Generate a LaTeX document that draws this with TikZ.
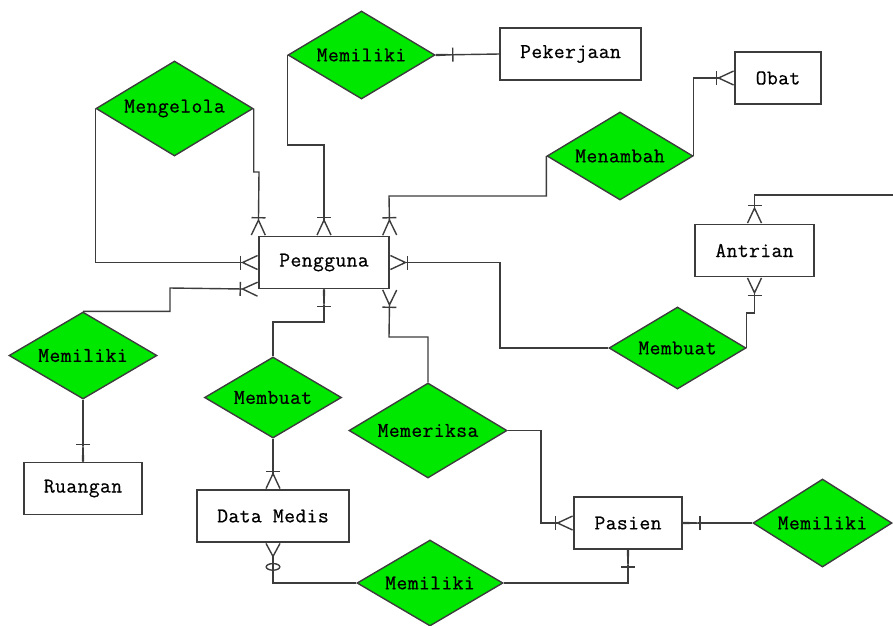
\documentclass[tikz,border=0pt]{standalone}
\usepackage{fontspec}
\usepackage{tikz}
\usetikzlibrary{arrows.meta, shapes}
\newfontfamily\ermono{Latin Modern Mono}[LetterSpace=2, FakeBold=0.6]
\definecolor{ergreen}{RGB}{0,232,0}
\definecolor{linegray}{RGB}{60,60,60}
\tikzset{
  entity/.style={rectangle, draw=linegray, line width=1.4pt, fill=white, minimum width=#1, minimum height=52pt, inner sep=0pt, font={\ermono\fontsize{21pt}{23pt}\selectfont}},
  relation/.style 2 args={diamond, draw=linegray, line width=1.4pt, fill=ergreen, aspect=1.8, inner sep=0pt, minimum width=#1, minimum height=#2, font={\ermono\fontsize{21pt}{23pt}\selectfont}},
  link/.style={draw=linegray, line width=1.4pt},
  one/.style={link, -{Bar[width=14pt] Straight Barb[reversed, round, length=15pt, width=1pt]}},
  many/.style={link, -{Bar[width=14pt] Straight Barb[reversed, length=15pt, width=14pt]}},
  zeromany/.style={link, -{Circle[open, length=8pt, width=15pt, sep=5pt] Straight Barb[reversed, length=13pt, width=14pt]}}
}
\begin{document}
\begin{tikzpicture}[x=1pt, y=-1pt]
\useasboundingbox (0,0) rectangle (893,625);
% entitas
\node[entity=130pt] (peng) at (324,262.5) {Pengguna};
\node[entity=141pt] (pek) at (570.5,54) {Pekerjaan};
\node[entity=86pt] (obat) at (778,78) {Obat};
\node[entity=119pt] (antri) at (754.5,250.5) {Antrian};
\node[entity=118pt] (ruang) at (83,488.5) {Ruangan};
\node[entity=152pt] (medis) at (273,516) {Data Medis};
\node[entity=108pt] (pasien) at (628,523) {Pasien};
% relasi
\node[relation={147pt}{88pt}] (mem1) at (361.5,55) {Memiliki};
\node[relation={157pt}{95pt}] (kelola) at (174.5,108.5) {Mengelola};
\node[relation={146pt}{88pt}] (tambah) at (620,156) {Menambah};
\node[relation={137pt}{82pt}] (buat1) at (677.5,348) {Membuat};
\node[relation={148pt}{87pt}] (mem2) at (83,355.5) {Memiliki};
\node[relation={137pt}{81pt}] (buat2) at (273,397.5) {Membuat};
\node[relation={158pt}{95pt}] (periksa) at (428,430.5) {Memeriksa};
\node[relation={146pt}{86pt}] (mem3) at (430,583) {Memiliki};
\node[relation={139pt}{88pt}] (mem4) at (822.5,523) {Memiliki};
\coordinate (kanan) at (893,195);
% garis
\draw [one] (pek.west) -- (mem1.east);
\draw [many] (mem1.west) |- (324,145) -- (peng.north);
\draw [many] (kelola.west) |- (peng.west);
\draw [many] (kelola.east) |- (259,172) -- (peng.north west);
\draw [many] (tambah.west) |- (389,196) -- (peng.north east);
\draw [many] (tambah.east) |- (obat.west);
\draw [many] (kanan) -| (antri.north);
\draw [many] (buat1.east) |- (754.5,313) -- (antri.south);
\draw [many] (buat1.west) -| (500,262.5) -- (peng.east);
\draw [many] (mem2.north) -| (170,288) -- (peng.south west);
\draw [one] (mem2.south) -- (ruang.north);
\draw [one] (buat2.north) |- (324,322) -- (peng.south);
\draw [many] (buat2.south) -- (medis.north);
\draw [many] (periksa.north) |- (389,337) -- (peng.south east);
\draw [many] (periksa.east) -| (541,523) -- (pasien.west);
\draw [zeromany] (mem3.west) -| (medis.south);
\draw [one] (mem3.east) -| (pasien.south);
\draw [one] (mem4.west) -- (pasien.east);
\end{tikzpicture}
\end{document}
